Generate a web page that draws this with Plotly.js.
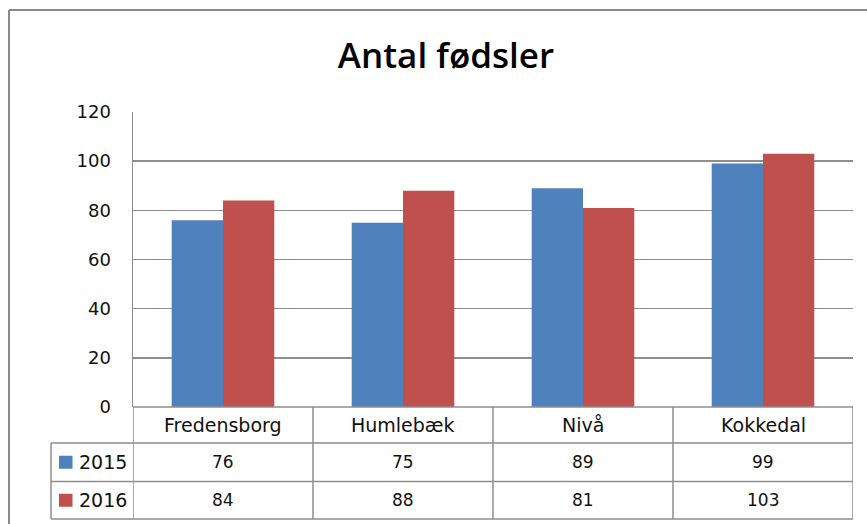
<!DOCTYPE html>
<html>
<head>
<meta charset="utf-8">
<script src="https://cdn.plot.ly/plotly-3.0.1.min.js"></script>
<style>
html,body{margin:0;padding:0;background:#fff;}
#chart{width:867px;height:524px;}
</style>
</head>
<body>
<div id="chart"></div>
<script>
// ---- data ----
const categories = ['Fredensborg', 'Humlebæk', 'Nivå', 'Kokkedal'];
const seriesNames = ['2015', '2016'];
const values2015 = [76, 75, 89, 99];
const values2016 = [84, 88, 81, 103];
const yTickValues = [0, 20, 40, 60, 80, 100, 120];
const chartTitle = 'Antal fødsler';

// ---- layout geometry (pixels) ----
const W = 867, H = 524;
const plotL = 133, plotR = 853, plotT = 112, plotB = 407;
const pw = plotR - plotL, ph = plotB - plotT;
const px2x = p => (p - plotL) / pw;
const px2y = p => (plotB - p) / ph;

const rowCatBottom = 443, row1Bottom = 481.5, row2Bottom = 519;
const tableLeft = 51;
const colors = ['#4F81BD', '#C0504D'];
const lineCol = '#8e8e8e';
const FONT = 'DejaVu Sans, Verdana, sans-serif';

const seriesVals = [values2015, values2016];

const traces = seriesVals.map((vals, k) => ({
  type: 'bar',
  x: categories,
  y: vals,
  name: seriesNames[k],
  marker: {color: colors[k], line: {width: 0}},
  hoverinfo: 'x+y+name'
}));

const shapes = [];
const annotations = [];

// outer chart border
shapes.push({type: 'line', xref: 'paper', yref: 'paper', x0: px2x(9), x1: px2x(W + 5), y0: px2y(10), y1: px2y(10), line: {color: '#8a8a8a', width: 2}});
shapes.push({type: 'line', xref: 'paper', yref: 'paper', x0: px2x(9), x1: px2x(9), y0: px2y(10), y1: px2y(H + 5), line: {color: '#8a8a8a', width: 2}});

// table horizontal lines
shapes.push({type: 'line', xref: 'paper', yref: 'paper', x0: 0, x1: 1, y0: 0, y1: 0, line: {color: lineCol, width: 1.5}});
[rowCatBottom, row1Bottom, row2Bottom].forEach(py => {
  shapes.push({type: 'line', xref: 'paper', yref: 'paper', x0: px2x(tableLeft), x1: 1, y0: px2y(py), y1: px2y(py), line: {color: lineCol, width: 1.5}});
});
// table left edge
shapes.push({type: 'line', xref: 'paper', yref: 'paper', x0: px2x(tableLeft), x1: px2x(tableLeft), y0: px2y(rowCatBottom), y1: px2y(row2Bottom), line: {color: lineCol, width: 1.5}});
// column dividers
for (let i = 0; i <= categories.length; i++) {
  shapes.push({type: 'line', xref: 'x', yref: 'paper', x0: i - 0.5, x1: i - 0.5, y0: 0, y1: px2y(row2Bottom), line: {color: lineCol, width: 1.5}});
}

// category names
categories.forEach((c, i) => {
  annotations.push({xref: 'x', yref: 'paper', x: i, y: px2y((plotB + rowCatBottom) / 2), text: c, showarrow: false, xanchor: 'center', yanchor: 'middle', font: {family: FONT, size: 19, color: '#111'}});
});

// value rows + legend keys
const rowCenters = [(rowCatBottom + row1Bottom) / 2, (row1Bottom + row2Bottom) / 2];
seriesVals.forEach((vals, k) => {
  const cy = rowCenters[k];
  vals.forEach((v, i) => {
    annotations.push({xref: 'x', yref: 'paper', x: i, y: px2y(cy), text: String(v), showarrow: false, xanchor: 'center', yanchor: 'middle', font: {family: FONT, size: 17, color: '#111'}});
  });
  shapes.push({type: 'rect', xref: 'paper', yref: 'paper', x0: px2x(59), x1: px2x(72.5), y0: px2y(cy - 6.5), y1: px2y(cy + 6.5), fillcolor: colors[k], line: {width: 0}});
  annotations.push({xref: 'paper', yref: 'paper', x: px2x(77), y: px2y(cy), text: seriesNames[k], showarrow: false, xanchor: 'left', yanchor: 'middle', font: {family: FONT, size: 19, color: '#111'}});
});

const layout = {
  width: W, height: H,
  margin: {l: plotL, r: W - plotR, t: plotT, b: H - plotB, pad: 0},
  paper_bgcolor: '#fff',
  plot_bgcolor: '#fff',
  showlegend: false,
  barmode: 'group',
  bargap: 0.43,
  bargroupgap: 0,
  title: {
    text: chartTitle,
    xref: 'container', yref: 'container',
    x: 446 / W, xanchor: 'center',
    y: 1 - 56 / H, yanchor: 'middle',
    font: {family: 'Open Sans, sans-serif', size: 35, color: '#000', weight: 600}
  },
  xaxis: {
    type: 'category',
    range: [-0.5, categories.length - 0.5],
    showticklabels: false,
    showgrid: false,
    zeroline: false,
    showline: false,
    ticks: '',
    fixedrange: true
  },
  yaxis: {
    range: [0, 120],
    tickvals: yTickValues,
    ticktext: yTickValues.map(String),
    showgrid: true,
    gridcolor: lineCol,
    gridwidth: 1.5,
    zeroline: false,
    showline: true,
    linecolor: lineCol,
    linewidth: 1.5,
    ticks: '',
    ticklabelstandoff: 17,
    tickfont: {family: FONT, size: 18, color: '#111'},
    fixedrange: true
  },
  shapes: shapes,
  annotations: annotations
};

Plotly.newPlot('chart', traces, layout, {displayModeBar: false, staticPlot: true});
</script>
</body>
</html>
